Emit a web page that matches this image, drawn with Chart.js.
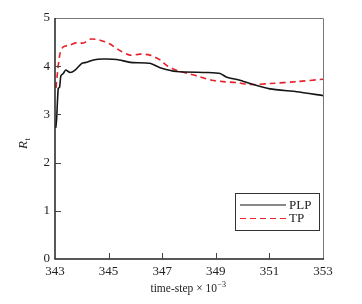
<!DOCTYPE html>
<html>
<head>
<meta charset="utf-8">
<script src="https://cdn.jsdelivr.net/npm/chart.js@4"></script>
<style>
  html, body { margin: 0; padding: 0; background: #fff; }
  #wrap { width: 362px; height: 304px; }
</style>
</head>
<body>
<div id="wrap"><canvas id="chartBase" width="362" height="304"></canvas></div>
<script>
// datos (time-step x 10^-3, Rt)
const plpX = [343.03, 343.06, 343.12, 343.17, 343.22, 343.31, 343.40, 343.56, 343.75, 344.00,
  344.18, 344.43, 344.79, 345.31, 345.80, 346.54, 346.92, 347.54, 348.66, 349.16,
  349.41, 349.90, 350.28, 351.02, 352.02, 353.00];
const plpY = [2.72, 2.90, 3.54, 3.56, 3.80, 3.85, 3.92, 3.87, 3.92, 4.06,
  4.08, 4.13, 4.15, 4.14, 4.08, 4.06, 3.97, 3.89, 3.87, 3.85,
  3.77, 3.71, 3.64, 3.53, 3.47, 3.39];

const tpX = [343.04, 343.07, 343.19, 343.31, 343.56, 343.81, 344.06, 344.31, 344.68, 345.05,
  345.43, 345.80, 346.17, 346.54, 346.92, 347.18, 347.55, 347.96, 348.41, 348.85,
  349.27, 349.78, 350.28, 351.02, 352.02, 353.00];
const tpY = [3.55, 3.75, 4.27, 4.40, 4.44, 4.49, 4.48, 4.56, 4.54, 4.46,
  4.32, 4.23, 4.25, 4.23, 4.13, 4.01, 3.91, 3.85, 3.78, 3.71,
  3.68, 3.66, 3.62, 3.64, 3.68, 3.73];

const xTicks = [343, 345, 347, 349, 351, 353];
const yTicks = [0, 1, 2, 3, 4, 5];
const serieNames = ["PLP", "TP"];

const FONT = "'Liberation Serif', 'Times New Roman', serif";

function puntos(xs, ys) {
  const out = [];
  for (let i = 0; i < xs.length; i++) out.push({ x: xs[i], y: ys[i] });
  return out;
}

// marco, ticks hacia dentro, titulos y leyenda
const extras = {
  id: "extras",
  afterDraw: function (chart) {
    const ctx = chart.ctx;
    const a = chart.chartArea;
    const sx = chart.scales.x;
    const sy = chart.scales.y;
    ctx.save();

    // borde superior y derecho (gris)
    ctx.strokeStyle = "#777";
    ctx.lineWidth = 1;
    ctx.beginPath();
    ctx.moveTo(a.left, a.top + 0.5);
    ctx.lineTo(a.right + 0.5, a.top + 0.5);
    ctx.lineTo(a.right + 0.5, a.bottom);
    ctx.stroke();

    // ejes izquierdo e inferior
    ctx.strokeStyle = "#222";
    ctx.lineWidth = 1.5;
    ctx.beginPath();
    ctx.moveTo(a.left, a.top);
    ctx.lineTo(a.left, a.bottom);
    ctx.lineTo(a.right + 1, a.bottom);
    ctx.stroke();

    // ticks
    ctx.lineWidth = 1;
    ctx.strokeStyle = "#444";
    ctx.beginPath();
    for (let i = 1; i < xTicks.length - 1; i++) {
      const px = Math.round(sx.getPixelForValue(xTicks[i])) + 0.5;
      ctx.moveTo(px, a.bottom);
      ctx.lineTo(px, a.bottom - 6);
    }
    for (let j = 1; j < yTicks.length - 1; j++) {
      const py = Math.round(sy.getPixelForValue(yTicks[j])) + 0.5;
      ctx.moveTo(a.left, py);
      ctx.lineTo(a.left + 6, py);
    }
    ctx.stroke();

    // titulo eje x
    ctx.fillStyle = "#222";
    ctx.textBaseline = "alphabetic";
    ctx.textAlign = "left";
    const main = "time-step \u00d7 10";
    ctx.font = "11.5px " + FONT;
    const w1 = ctx.measureText(main).width;
    ctx.font = "8px " + FONT;
    const w2 = ctx.measureText("\u22123").width;
    const cx = (a.left + a.right) / 2 - 1;
    const x0 = cx - (w1 + w2) / 2;
    ctx.font = "11.5px " + FONT;
    ctx.fillText(main, x0, 292);
    ctx.font = "8px " + FONT;
    ctx.fillText("\u22123", x0 + w1 + 0.5, 287);

    // titulo eje y (R sub t)
    ctx.translate(27, 149);
    ctx.rotate(-Math.PI / 2);
    ctx.font = "italic 13px " + FONT;
    ctx.fillText("R", 0, 0);
    const wr = ctx.measureText("R").width;
    ctx.font = "8px " + FONT;
    ctx.fillText("t", wr + 0.5, 3);
    ctx.setTransform(1, 0, 0, 1, 0, 0);

    // leyenda
    const lx = 235, ly = 193, lw = 84, lh = 37;
    ctx.fillStyle = "#fff";
    ctx.fillRect(lx, ly, lw, lh);
    ctx.strokeStyle = "#333";
    ctx.lineWidth = 1;
    ctx.strokeRect(lx + 0.5, ly + 0.5, lw, lh);
    const ds = chart.data.datasets;
    const rows = [205, 218.5];
    for (let k = 0; k < ds.length; k++) {
      ctx.strokeStyle = ds[k].borderColor;
      ctx.lineWidth = 1.2;
      ctx.setLineDash(ds[k].borderDash || []);
      ctx.beginPath();
      ctx.moveTo(240, rows[k]);
      ctx.lineTo(286, rows[k]);
      ctx.stroke();
      ctx.setLineDash([]);
      ctx.fillStyle = "#222";
      ctx.font = "13px " + FONT;
      ctx.textBaseline = "middle";
      ctx.fillText(ds[k].label, 289, rows[k] + 0.5);
    }
    ctx.restore();
  }
};

new Chart(document.getElementById("chartBase").getContext("2d"), {
  type: "line",
  data: {
    datasets: [
      {
        label: serieNames[0],
        data: puntos(plpX, plpY),
        borderColor: "#151515",
        borderWidth: 1.6,
        pointRadius: 0,
        tension: 0.2,
        fill: false
      },
      {
        label: serieNames[1],
        data: puntos(tpX, tpY),
        borderColor: "#e8202a",
        borderWidth: 1.6,
        borderDash: [6, 4],
        pointRadius: 0,
        tension: 0.3,
        fill: false
      }
    ]
  },
  options: {
    responsive: false,
    animation: false,
    layout: { padding: { top: 18, right: 39, left: 0, bottom: 0 } },
    plugins: { legend: { display: false }, tooltip: { enabled: false } },
    scales: {
      x: {
        type: "linear",
        min: 343,
        max: 353,
        afterBuildTicks: function (s) { s.ticks = xTicks.map(function (v) { return { value: v }; }); },
        afterFit: function (s) { s.height = 45; },
        grid: { display: false, drawTicks: false },
        border: { display: false },
        ticks: { padding: 5, color: "#222", font: { family: FONT, size: 13 }, maxRotation: 0 }
      },
      y: {
        min: 0,
        max: 5,
        afterBuildTicks: function (s) { s.ticks = yTicks.map(function (v) { return { value: v }; }); },
        afterFit: function (s) { s.width = 55; },
        grid: { display: false, drawTicks: false },
        border: { display: false },
        ticks: { padding: 5, color: "#222", font: { family: FONT, size: 13 } }
      }
    }
  },
  plugins: [extras]
});
</script>
</body>
</html>
